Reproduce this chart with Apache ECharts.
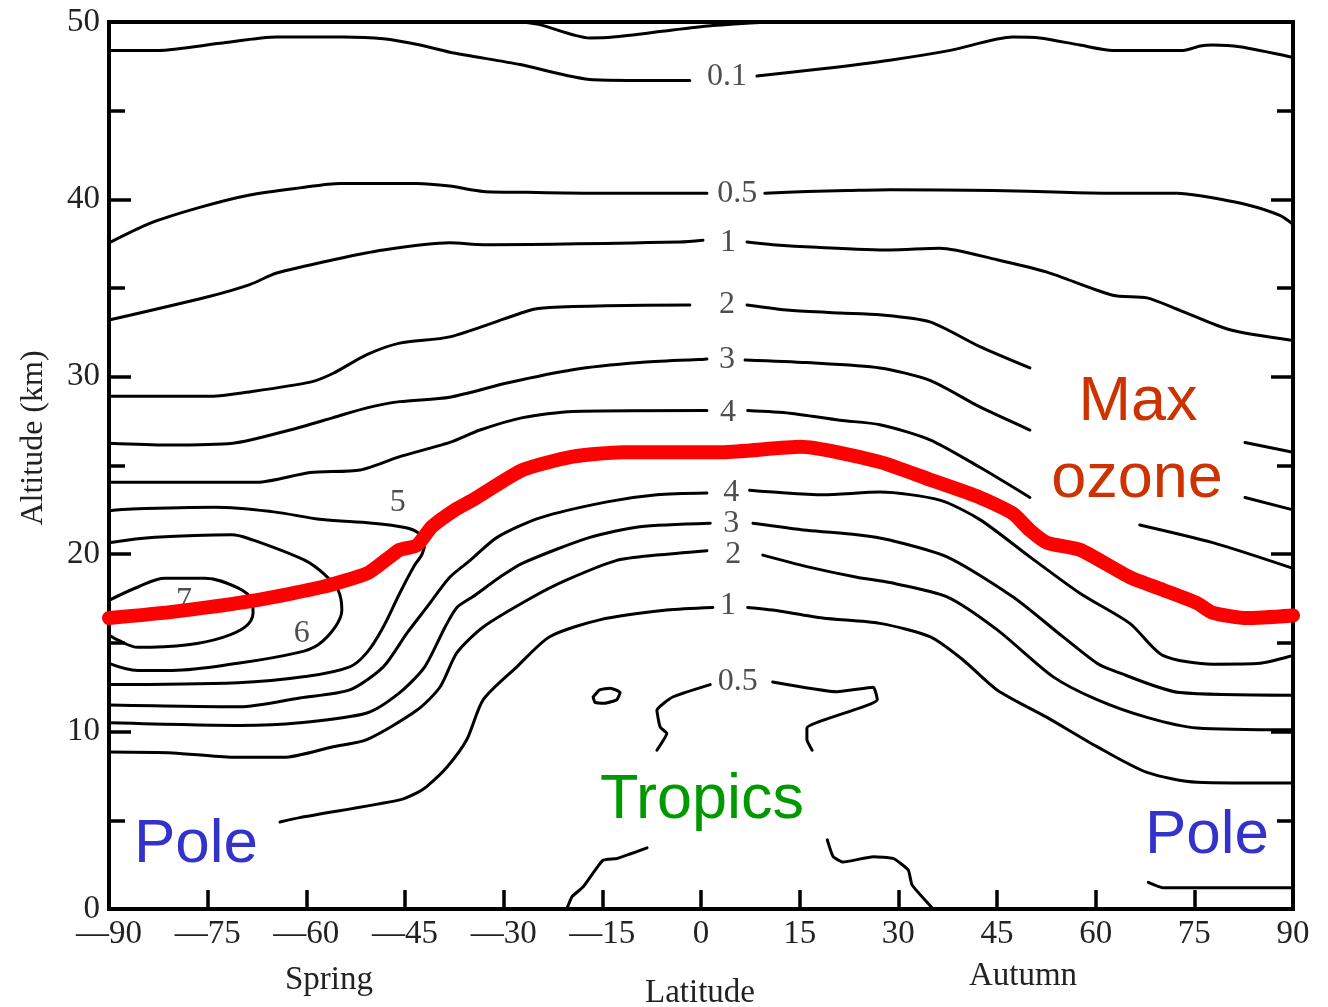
<!DOCTYPE html>
<html><head><meta charset="utf-8">
<script src="https://cdn.jsdelivr.net/npm/echarts@6/dist/echarts.min.js"></script>
<style>html,body{margin:0;padding:0;background:#fff}#c{width:1328px;height:1007px}</style>
</head><body><div id="c"></div>
<script>
// ---- tick values / labels ----
const latTicks = [-90,-75,-60,-45,-30,-15,0,15,30,45,60,75,90];
const latTickLabels = ['—90','—75','—60','—45','—30','—15','0','15','30','45','60','75','90'];
const altTicks = [0,10,20,30,40,50];

// ---- contour lines: [latitude, altitude km], split where labels/boxes interrupt ----
const contourTop = [
  [[-27.1,50],[-24.5,49.85],[-16.9,49.1],[-13.4,49.15],[-4.3,49.55],[1.8,49.8],[10.5,50]]
];
const contour01 = [
  [[-90,48.4],[-82.5,48.4],[-73.1,48.8],[-64.5,49.15],[-54.4,49.15],[-48.3,49.05],[-42.7,48.7],[-38.2,48.3],[-27.5,47.6],[-16.4,46.75],[-1.7,46.7]],
  [[8.5,46.95],[18.1,47.35],[28.7,47.85],[37.9,48.4],[47.4,49.15],[51.5,49.1],[57.6,48.7],[62.6,48.4],[73.3,48.4],[75.9,48.65],[77.8,48.7],[81.9,48.6],[90,48.0]]
];
const contour05Upper = [
  [[-90,37.55],[-83.8,38.65],[-76.2,39.55],[-68.6,40.25],[-61,40.65],[-54.9,40.9],[-43.2,40.9],[-38.2,40.75],[-33.1,40.45],[-26.5,40.4],[-16.4,40.35],[0.9,40.35]],
  [[9.7,40.35],[16.1,40.45],[22.2,40.5],[28.7,40.55],[44.4,40.5],[55,40.4],[62.2,40.35],[72.4,40.35],[75.9,40.2],[83,39.7],[88,39.1],[90,38.6]]
];
const contour1Upper = [
  [[-90,33.2],[-75.1,34.5],[-68.6,35.2],[-64.5,35.85],[-55.9,36.6],[-48.3,37.15],[-38.2,37.55],[-33.1,37.45],[-3.2,37.6],[0.3,37.7]],
  [[7,37.6],[10.9,37.45],[17.6,37.3],[28.7,37.15],[36.3,37.25],[45,36.6],[52.6,35.9],[62.6,34.6],[67.8,34.45],[72.8,33.75],[80.4,32.65],[90,32.05]]
];
const contour2Upper = [
  [[-90,28.9],[-74.2,28.9],[-69.6,29.1],[-59.4,29.7],[-55.9,30.2],[-50.8,31.25],[-45.8,31.9],[-38.2,32.25],[-26,33.75],[-23,33.9],[-14.3,34.0],[-1.7,34.05]],
  [[7,34.05],[13.5,33.75],[21.1,33.6],[27.2,33.5],[34.8,33.1],[42.4,31.7],[50,30.5]],
  [[82.7,26.3],[90,25.75]]
];
const contour3Upper = [
  [[-90,26.25],[-81.2,26.15],[-71.2,26.25],[-62.5,27.0],[-55.9,27.7],[-50.8,28.25],[-45.8,28.6],[-38.2,28.85],[-29.5,29.65],[-19.5,30.4],[-9.3,30.8],[0.9,31.0]],
  [[6.7,30.95],[16.1,30.8],[27.2,30.5],[34.8,29.8],[42.4,28.3],[50,27.0]],
  [[82.7,23.2],[90,22.5]]
];
const contour4Upper = [
  [[-90,24.05],[-67.5,24.05],[-59.4,24.6],[-51.8,24.75],[-45.8,25.5],[-38.2,26.3],[-33.6,27.0],[-27.1,27.7],[-19.5,28.05],[0.9,28.1]],
  [[7.1,28.1],[13.5,27.95],[21.1,27.55],[27.2,27.3],[34.8,26.45],[42.4,24.9],[50,23.2]],
  [[66.7,21.65],[77.8,20.65],[90,19.2]]
];
const contour5 = [
  [[-90,22.45],[-86.5,22.55],[-73.9,22.65],[-65.2,22.4],[-57.6,21.95],[-50,21.75],[-45,21.5],[-43,21.2],[-42,20.65],[-42.4,20.0],[-43.5,19.4],[-45.8,17.8],[-48.3,15.9],[-50.8,14.45],[-53.4,13.65],[-60.2,13.1],[-70.4,12.75],[-90,12.65]]
];
const contour6 = [
  [[-90,20.65],[-83,20.95],[-71.3,21.1],[-68.9,20.9],[-60.2,19.65],[-57.2,18.85],[-55.2,18.0],[-54.6,16.85],[-55.6,15.9],[-58.2,14.9],[-61.3,14.45],[-70.4,13.85],[-80.4,13.45],[-85.6,13.45],[-90,13.85]]
];
const contour7 = [
  [[-90,17.4],[-85.6,18.15],[-81.5,18.65],[-75.4,18.65],[-70.4,18.1],[-68.3,17.4],[-68.1,16.7],[-69.3,15.9],[-72.8,15.3],[-78,14.9],[-85.6,14.75],[-88.6,15.15],[-90,15.45]]
];
const contour4Lower = [
  [[-90,11.5],[-70.1,11.4],[-61,11.9],[-53.4,12.35],[-48.3,13.65],[-44.7,15.55],[-41.7,17.0],[-38.2,18.7],[-35.1,19.65],[-31,20.95],[-24.5,22.05],[-14.3,22.95],[-6.7,23.35],[0.9,23.45]],
  [[7.4,23.6],[10.9,23.5],[18.5,23.35],[27.2,23.5],[36.3,23.05],[42.4,21.95],[50,19.85],[57.6,17.8],[65.2,16.1],[70.2,14.3],[77.8,13.8],[85,13.85],[90,14.3]]
];
const contour3Lower = [
  [[-90,10.5],[-70.1,10.35],[-61,10.5],[-50.8,11.05],[-45.8,12.2],[-42,13.65],[-38.9,15.9],[-37.1,17.0],[-34.7,17.6],[-30.6,18.7],[-27.1,19.5],[-16.9,20.95],[-9.3,21.55],[1.4,21.75]],
  [[7.9,21.75],[16.1,21.35],[23.7,21.1],[28.7,20.8],[37.4,19.85],[47.4,17.6],[55,15.35],[60.2,13.85],[62.6,13.45],[72.8,12.2],[90,12.05]]
];
const contour2Lower = [
  [[-90,8.85],[-80.3,8.8],[-71.2,8.55],[-63.5,8.55],[-55.9,9.15],[-50.8,9.55],[-43.2,11.2],[-39.7,12.5],[-37.1,14.45],[-33.1,15.9],[-25.5,17.6],[-20.4,18.55],[-12.8,19.65],[-6.7,19.95],[0.9,20.2]],
  [[9.4,19.95],[16.1,19.3],[23.7,18.7],[28.7,18.4],[37.4,17.6],[45,15.75],[53.5,13.1],[60.2,11.8],[67.8,10.8],[75.4,10.2],[90,10.1]]
];
const contour1Lower = [
  [[-64,4.9],[-61,5.15],[-45.8,6.15],[-43.2,6.55],[-41.7,6.9],[-38.6,8.0],[-35.6,9.55],[-33.1,11.8],[-28,13.65],[-23,15.35],[-15.4,16.3],[-5.2,16.85],[1.8,17.0]],
  [[7.1,17.0],[10.9,16.85],[18.5,16.4],[27.2,16.1],[34.8,15.35],[39.8,14.05],[45,12.35],[52.6,10.8],[60.2,9.15],[67.8,7.7],[75.4,7.15],[90,7.1]]
];
const contour05Lower = [
  [[1.4,12.65],[-4.3,11.95],[-6.7,11.2],[-6.2,10.25],[-5.2,9.9],[-6.7,8.95]],
  [[10.9,12.8],[20.7,12.25],[26.2,12.5],[26.8,11.8],[16.1,10.2],[16.1,9.55],[16.9,8.95]],
  [[-20.4,0],[-19.6,0.7],[-17.9,1.25],[-14.9,2.75],[-12.8,2.85],[-8.2,3.45]],
  [[19.2,3.9],[20.1,2.95],[21.6,2.65],[26.2,2.95],[29.2,2.85],[31.5,2.2],[32.1,1.35],[35.3,0]],
  [[68,1.5],[70.2,1.2],[90,1.2]]
];
const contour05Island = [
  [[-16.4,11.95],[-15.4,12.35],[-13.8,12.45],[-12.3,12.2],[-12.8,11.8],[-14.6,11.6],[-16.1,11.65],[-16.4,11.95]]
];
const maxOzone = [[-90,16.4],[-80.4,16.75],[-67.8,17.4],[-57.6,18.15],[-50.6,18.95],[-47.3,19.85],[-45.8,20.25],[-43.2,20.5],[-40.9,21.55],[-37.4,22.5],[-34.7,23.05],[-27.1,24.75],[-19.5,25.5],[-11.9,25.75],[3.3,25.75],[15.1,26.05],[27.2,25.2],[34.8,24.2],[42.4,23.2],[47.4,22.3],[50,21.35],[52.6,20.65],[57.6,20.25],[65.2,18.7],[70.2,18.0],[75.4,17.25],[77.8,16.7],[83,16.4],[90,16.55]];

// contour value labels: [text, latitude, altitude]
const contourLabels = [
  ['0.1',3.95,46.95],['0.5',5.5,40.35],['1',4.1,37.55],['2',3.95,34.05],['3',3.95,30.95],['4',4.1,28.0],
  ['4',4.6,23.5],['3',4.6,21.75],['2',4.9,19.95],['1',4.1,17.1],['0.5',5.6,12.8],
  ['5',-46.1,22.9],['6',-60.7,15.5],['7',-78.6,17.4]
];

// ---- build ----
const SERIF = "'Liberation Serif','DejaVu Serif',serif";
const SANS = "'Liberation Sans',Arial,sans-serif";
const series = [];
function addContour(segs, smooth) {
  segs.forEach(seg => series.push({
    type:'line', data: seg, symbol:'none', showSymbol:false, silent:true, z:2,
    smooth: smooth, lineStyle:{color:'#000', width:3, join:'round', cap:'round'}
  }));
}
[contourTop, contour01, contour05Upper, contour1Upper, contour2Upper, contour3Upper, contour4Upper,
 contour4Lower, contour3Lower, contour2Lower, contour1Lower].forEach(c => addContour(c, 0.25));
[contour5, contour6, contour7].forEach(c => addContour(c, 0.35));
[contour05Lower, contour05Island].forEach(c => addContour(c, 0.15));

series.push({
  type:'scatter', data: contourLabels.map(l => ({name:l[0], value:[l[1], l[2]]})),
  symbolSize:1, itemStyle:{color:'rgba(0,0,0,0)'}, silent:true, z:4,
  label:{show:true, position:'inside', formatter: p => p.name, fontFamily:SERIF, fontSize:32, color:'#222'}
});
series.push({
  type:'line', data:maxOzone, symbol:'none', showSymbol:false, silent:true, z:6, smooth:0.2,
  lineStyle:{color:'#ff0000', width:14, join:'round', cap:'round'}
});

const tickStyle = {color:'#000', width:3.5};
const option = {
  animation:false,
  backgroundColor:'#fff',
  grid:{left:109, top:22, width:1184, height:887, show:true, borderColor:'#000', borderWidth:4, backgroundColor:'transparent'},
  xAxis:{
    type:'value', min:-90, max:90, interval:15, position:'bottom',
    axisLine:{show:false, onZero:false}, splitLine:{show:false},
    axisTick:{show:true, inside:true, length:19, lineStyle:tickStyle},
    axisLabel:{margin:9, fontFamily:SERIF, fontSize:33, color:'#222',
      formatter: v => { const i = latTicks.indexOf(v); return i >= 0 ? latTickLabels[i] : ''; }}
  },
  yAxis:[
    {type:'value', min:0, max:50, interval:10, position:'left',
     axisLine:{show:false, onZero:false}, splitLine:{show:false},
     axisTick:{show:true, inside:true, length:22, lineStyle:tickStyle},
     minorTick:{show:true, splitNumber:2, length:16, lineStyle:tickStyle},
     axisLabel:{margin:9, fontFamily:SERIF, fontSize:33, color:'#222',
       formatter: v => altTicks.indexOf(v) >= 0 ? String(v) : ''}},
    {type:'value', min:0, max:50, interval:10, position:'right',
     axisLine:{show:false, onZero:false}, splitLine:{show:false},
     axisTick:{show:true, inside:true, length:22, lineStyle:tickStyle},
     minorTick:{show:true, splitNumber:2, length:16, lineStyle:tickStyle},
     axisLabel:{show:false}}
  ],
  graphic:[
    {type:'text', x:34, y:438, rotation:Math.PI/2, style:{text:'Altitude (km)', font:'32px '+SERIF, fill:'#222', align:'center', verticalAlign:'middle'}},
    {type:'text', x:329, y:980, style:{text:'Spring', font:'33px '+SERIF, fill:'#222', align:'center', verticalAlign:'middle'}},
    {type:'text', x:700, y:993, style:{text:'Latitude', font:'33px '+SERIF, fill:'#222', align:'center', verticalAlign:'middle'}},
    {type:'text', x:1023, y:976, style:{text:'Autumn', font:'33px '+SERIF, fill:'#222', align:'center', verticalAlign:'middle'}},
    {type:'text', x:1138, y:403, z:10, style:{text:'Max', font:'63px '+SANS, fill:'#cc3300', align:'center', verticalAlign:'middle'}},
    {type:'text', x:1137, y:480, z:10, style:{text:'ozone', font:'63px '+SANS, fill:'#cc3300', align:'center', verticalAlign:'middle'}},
    {type:'text', x:702, y:801, z:10, style:{text:'Tropics', font:'63px '+SANS, fill:'#009900', align:'center', verticalAlign:'middle'}},
    {type:'text', x:196, y:845, z:10, style:{text:'Pole', font:'62px '+SANS, fill:'#3333cc', align:'center', verticalAlign:'middle'}},
    {type:'text', x:1207, y:836, z:10, style:{text:'Pole', font:'62px '+SANS, fill:'#3333cc', align:'center', verticalAlign:'middle'}}
  ],
  series: series
};
const chart = echarts.init(document.getElementById('c'), null, {renderer:'canvas'});
chart.setOption(option);
</script>
</body></html>
